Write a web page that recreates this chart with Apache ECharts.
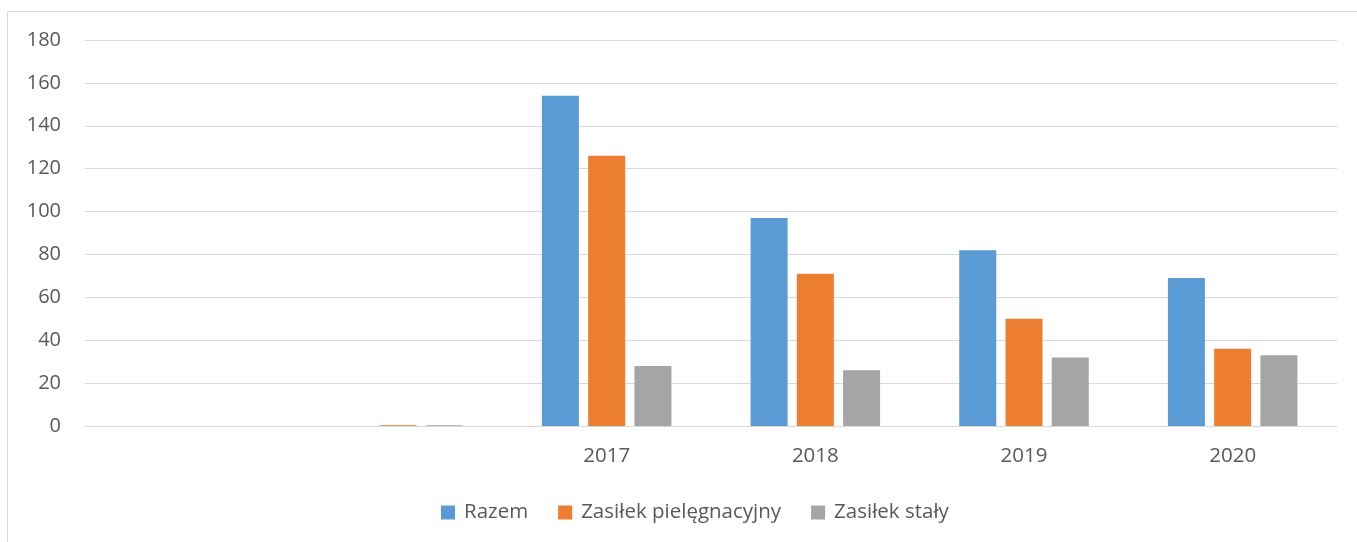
<!DOCTYPE html>
<html>
<head>
<meta charset="utf-8">
<script src="https://cdn.jsdelivr.net/npm/echarts@6/dist/echarts.min.js"></script>
<style>
  html, body { margin: 0; padding: 0; background: #fff; }
  #chart { width: 1357px; height: 542px; }
</style>
</head>
<body>
<div id="chart"></div>
<script>
// kategorie (dwie pierwsze puste, jak w oryginale)
var lata = ['', '', '2017', '2018', '2019', '2020'];
var razem = [null, 0, 154, 97, 82, 69];
var pielegnacyjny = [null, 0.4, 126, 71, 50, 36];
var staly = [null, 0.4, 28, 26, 32, 33];
var osY = [0, 20, 40, 60, 80, 100, 120, 140, 160, 180];

var FONT = '"Open Sans", sans-serif';
var TXT = '#595959';

function seria(name, color, data) {
    return {
        name: name,
        type: 'bar',
        barWidth: 37,
        barGap: '25%',
        itemStyle: { color: color },
        data: data
    };
}

var option = {
    animation: false,
    textStyle: { fontFamily: FONT },
    graphic: [{
        type: 'rect',
        shape: { x: 7.5, y: 11.5, width: 1360, height: 540 },
        style: { fill: 'none', stroke: '#d9d9d9', lineWidth: 1 }
    }],
    grid: { left: 85, right: 20, top: 40, bottom: 116 },
    legend: {
        bottom: 14,
        left: 436,
        itemWidth: 14,
        itemHeight: 14,
        itemGap: 30,
        icon: 'rect',
        textStyle: { color: TXT, fontSize: 20.5, fontFamily: FONT, padding: [0, 0, 0, 4] },
        data: ['Razem', 'Zasiłek pielęgnacyjny', 'Zasiłek stały']
    },
    xAxis: {
        type: 'category',
        data: lata,
        axisLine: { lineStyle: { color: '#d9d9d9', width: 1 } },
        axisTick: { show: false },
        axisLabel: { color: TXT, fontSize: 20.5, margin: 20, fontFamily: FONT }
    },
    yAxis: {
        type: 'value',
        min: osY[0],
        max: osY[osY.length - 1],
        interval: 20,
        axisLine: { show: false },
        axisTick: { show: false },
        splitLine: { lineStyle: { color: '#d9d9d9', width: 1 } },
        axisLabel: { color: TXT, fontSize: 20, margin: 24, fontFamily: FONT }
    },
    series: [
        seria('Razem', '#5B9BD5', razem),
        seria('Zasiłek pielęgnacyjny', '#ED7D31', pielegnacyjny),
        seria('Zasiłek stały', '#A5A5A5', staly)
    ]
};

var myChart = echarts.init(document.getElementById('chart'));
myChart.setOption(option);
</script>
</body>
</html>
